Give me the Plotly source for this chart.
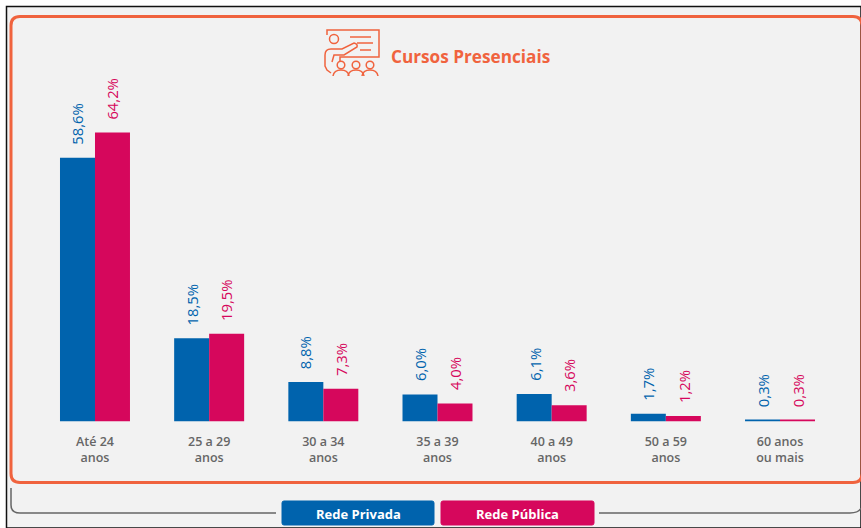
import plotly.graph_objects as go

categories = ["Até 24<br>anos", "25 a 29<br>anos", "30 a 34<br>anos", "35 a 39<br>anos",
              "40 a 49<br>anos", "50 a 59<br>anos", "60 anos<br>ou mais"]
privada = [58.6, 18.5, 8.8, 6.0, 6.1, 1.7, 0.3]
publica = [64.2, 19.5, 7.3, 4.0, 3.6, 1.2, 0.3]
privada_labels = ["58,6%", "18,5%", "8,8%", "6,0%", "6,1%", "1,7%", "0,3%"]
publica_labels = ["64,2%", "19,5%", "7,3%", "4,0%", "3,6%", "1,2%", "0,3%"]

W, H = 861, 528
BLUE, RED, ORANGE, GRAY = "#0063ad", "#d6075c", "#f0633e", "#666666"
FONT = "Open Sans"

fig = go.Figure()
fig.add_bar(x=categories, y=privada, name="Rede Privada", marker=dict(color=BLUE, line_width=0))
fig.add_bar(x=categories, y=publica, name="Rede Pública", marker=dict(color=RED, line_width=0))

shapes = []

def px(x):
    return x / W

def py(y):
    return 1 - y / H

def P(cmds):
    out = []
    for c in cmds:
        if isinstance(c, str):
            out.append(c)
        else:
            out.append(f"{px(c[0]):.5f},{py(c[1]):.5f}")
    return " ".join(out)

def path(cmds, color, width=1.5, fill=None, layer="below"):
    shapes.append(dict(type="path", xref="paper", yref="paper", path=P(cmds),
                       line=dict(color=color, width=width),
                       fillcolor=fill if fill else "rgba(0,0,0,0)", layer=layer))

def rrect(x0, y0, x1, y1, r):
    return ["M", (x0 + r, y0), "L", (x1 - r, y0), "Q", (x1, y0), (x1, y0 + r), "L", (x1, y1 - r),
            "Q", (x1, y1), (x1 - r, y1), "L", (x0 + r, y1), "Q", (x0, y1), (x0, y1 - r),
            "L", (x0, y0 + r), "Q", (x0, y0), (x0 + r, y0), "Z"]

def circle(cx, cy, r, color, width=1.5):
    shapes.append(dict(type="circle", xref="paper", yref="paper", x0=px(cx - r), x1=px(cx + r),
                       y0=py(cy + r), y1=py(cy - r), line=dict(color=color, width=width), layer="below"))

# panel background and black frame
path(["M", (6.5, 528), "L", (6.5, 6.5), "L", (861, 6.5), "L", (861, 528), "Z"], "#111111", 1.5, "#f2f2f2")
# orange rounded panel
path(rrect(11, 16.5, 862, 482.5, 9), ORANGE, 3)
# gray legend bracket
path(["M", (11, 488), "L", (11, 505), "Q", (11, 513), (20, 513), "L", (276, 513)], "#666666", 1.5)
path(["M", (599, 513), "L", (850, 513), "Q", (859, 513), (861, 508)], "#666666", 1.5)
# legend buttons
path(rrect(282, 501, 434, 525, 2), BLUE, 1, BLUE)
path(rrect(441, 501, 594, 525, 2), RED, 1, RED)

# icon: presenter and audience
ic = ORANGE
path(["M", (327, 35), "L", (327, 30), "L", (379, 30), "L", (379, 57), "L", (340, 57), "L", (340, 62)], ic)
circle(334, 39, 4.5, ic)
path(["M", (350, 37), "L", (371, 37)], ic)
path(["M", (357, 43), "L", (373, 43)], ic)
path(["M", (360, 50), "L", (371, 50)], ic)
path(["M", (331, 73), "L", (327, 70), "L", (325, 66), "L", (325, 55), "Q", (325, 49), (331, 49),
      "L", (342, 49), "L", (354, 43), "Q", (358, 44), (357, 47), "L", (344, 55), "L", (334, 55), "L", (332, 62)], ic)
for cx in (341, 356, 370):
    circle(cx, 65, 3.8, ic)
    path(["M", (cx - 8, 76), "Q", (cx - 7, 70), (cx, 70), "Q", (cx + 7, 70), (cx + 8, 76)], ic)

annotations = [
    dict(text="<b>Cursos Presenciais</b>", x=px(389), y=py(56), xref="paper", yref="paper",
         xanchor="left", yanchor="middle", showarrow=False, font=dict(family=FONT, size=17.2, color=ORANGE)),
    dict(text="<b>Rede Privada</b>", x=px(358.5), y=py(513.5), xref="paper", yref="paper",
         xanchor="center", yanchor="middle", showarrow=False, font=dict(family=FONT, size=13, color="white")),
    dict(text="<b>Rede Pública</b>", x=px(517), y=py(513.5), xref="paper", yref="paper",
         xanchor="center", yanchor="middle", showarrow=False, font=dict(family=FONT, size=13, color="white")),
]
for cat, a, b, la, lb in zip(categories, privada, publica, privada_labels, publica_labels):
    for v, t, c, dx in ((a, la, BLUE, -17.5), (b, lb, RED, 17.5)):
        annotations.append(dict(text=t, x=cat, y=v, xref="x", yref="y", xshift=dx, yshift=11,
                                textangle=-90, xanchor="center", yanchor="bottom", showarrow=False,
                                font=dict(family=FONT, size=14.8, color=c)))

fig.update_layout(
    width=W, height=H, margin=dict(l=0, r=0, t=0, b=0), showlegend=False,
    paper_bgcolor="white", plot_bgcolor="rgba(0,0,0,0)",
    barmode="group", bargap=0.387, bargroupgap=0,
    shapes=shapes, annotations=annotations,
    xaxis=dict(domain=[px(37.9), px(837.1)], range=[-0.5, 6.5], type="category", showgrid=False,
               showline=False, zeroline=False, ticks="outside", ticklen=8, tickcolor="rgba(0,0,0,0)",
               tickfont=dict(family=FONT, size=12.5, color=GRAY, weight=600)),
    yaxis=dict(domain=[py(421.5), py(106.5)], range=[0, 70], visible=False),
)
fig.write_html("out.html", config={"displayModeBar": False},
               post_script="document.body.style.margin='0';document.body.style.overflow='hidden';")
